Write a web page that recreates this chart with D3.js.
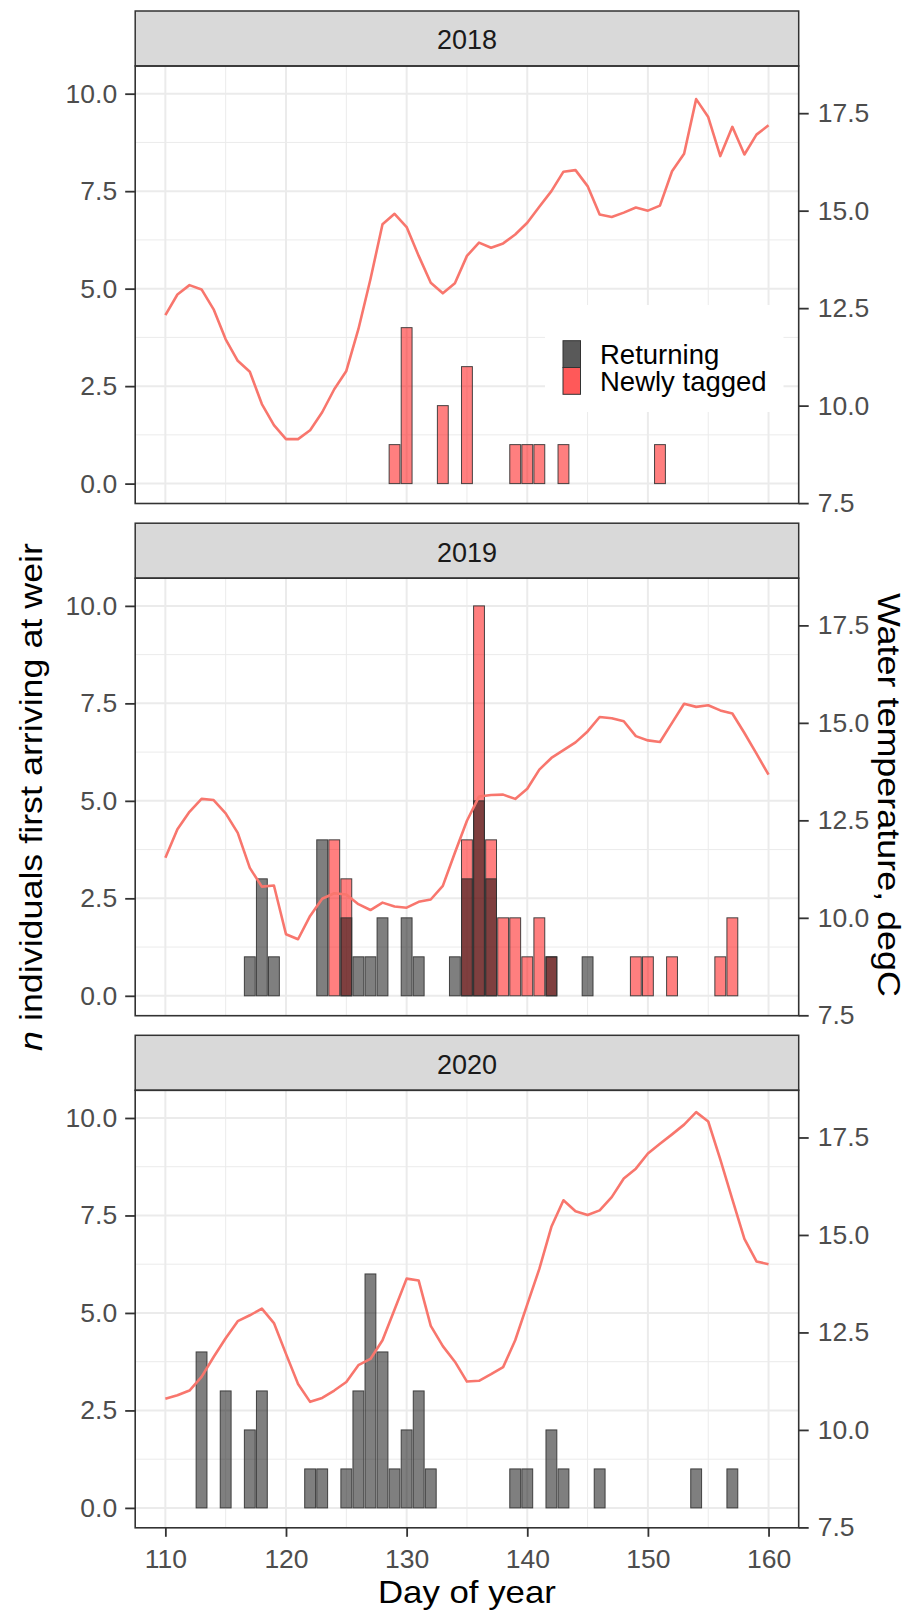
<!DOCTYPE html>
<html lang="en">
<head>
  <meta charset="UTF-8">
  <title>First arrivals at weir and water temperature</title>
  <script src="https://d3js.org/d3.v7.min.js"></script>
  <style>
    body {
      margin: 0;
      background: #fff;
    }
    svg {
      font-family: "Liberation Sans", Arial, sans-serif;
    }
  </style>
</head>
<body>
  <div id="chart"></div>

  <script>
    // panels (facets)
    const years = ["2018", "2019", "2020"];

    // daily water temperature, degC
    const tempDays = [110, 111, 112, 113, 114, 115, 116, 117, 118, 119, 120, 121, 122, 123, 124, 125, 126,
      127, 128, 129, 130, 131, 132, 133, 134, 135, 136, 137, 138, 139, 140, 141, 142, 143, 144, 145,
      146, 147, 148, 149, 150, 151, 152, 153, 154, 155, 156, 157, 158, 159, 160];
    const temp2018 = [12.32, 12.85, 13.09, 12.98, 12.47, 11.70, 11.15, 10.87, 10.04, 9.50, 9.14, 9.14, 9.37,
      9.83, 10.42, 10.89, 11.96, 13.24, 14.65, 14.92, 14.58, 13.84, 13.15, 12.88, 13.14, 13.84, 14.18,
      14.05, 14.16, 14.39, 14.69, 15.10, 15.50, 16.00, 16.04, 15.63, 14.90, 14.84, 14.95, 15.08, 15.00,
      15.13, 16.01, 16.46, 17.86, 17.40, 16.40, 17.15, 16.44, 16.95, 17.19];
    const temp2019 = [11.54, 12.27, 12.72, 13.05, 13.02, 12.68, 12.18, 11.28, 10.80, 10.83, 9.58, 9.45, 10.05,
      10.49, 10.63, 10.60, 10.35, 10.20, 10.39, 10.29, 10.26, 10.41, 10.47, 10.82, 11.67, 12.49, 13.11,
      13.15, 13.16, 13.05, 13.31, 13.80, 14.10, 14.30, 14.50, 14.78, 15.15, 15.12, 15.04, 14.66, 14.55,
      14.51, 15.00, 15.49, 15.41, 15.45, 15.32, 15.24, 14.74, 14.21, 13.67];
    const temp2020 = [10.80, 10.89, 11.01, 11.36, 11.87, 12.35, 12.79, 12.94, 13.11, 12.74, 11.95, 11.18, 10.72,
      10.82, 11.01, 11.23, 11.66, 11.82, 12.30, 13.09, 13.88, 13.83, 12.67, 12.15, 11.75, 11.24, 11.26,
      11.43, 11.61, 12.30, 13.22, 14.13, 15.21, 15.89, 15.61, 15.51, 15.63, 15.97, 16.45, 16.70, 17.09,
      17.34, 17.58, 17.83, 18.15, 17.91, 16.94, 15.91, 14.90, 14.32, 14.25];

    // first arrivals: returning fish
    const returnDays2018 = [];
    const returnCounts2018 = [];
    const returnDays2019 = [117, 118, 119, 123, 125, 126, 127, 128, 130, 131, 134, 135, 136, 137, 142, 145];
    const returnCounts2019 = [1, 3, 1, 4, 2, 1, 1, 2, 2, 1, 1, 3, 5, 3, 1, 1];
    const returnDays2020 = [113, 115, 117, 118, 122, 123, 125, 126, 127, 128, 129, 130, 131, 132, 139, 140,
      142, 143, 146, 154, 157];
    const returnCounts2020 = [4, 3, 2, 3, 1, 1, 1, 3, 6, 4, 1, 2, 3, 1, 1, 1, 2, 1, 1, 1, 1];

    // first arrivals: newly tagged fish
    const newDays2018 = [129, 130, 133, 135, 139, 140, 141, 143, 151];
    const newCounts2018 = [1, 4, 2, 3, 1, 1, 1, 1, 1];
    const newDays2019 = [124, 125, 135, 136, 137, 138, 139, 140, 141, 142, 149, 150, 152, 156, 157];
    const newCounts2019 = [4, 3, 4, 10, 4, 2, 2, 1, 2, 1, 1, 1, 1, 1, 2];
    const newDays2020 = [];
    const newCounts2020 = [];

    const seriesNames = ["Returning", "Newly tagged"];

    // axis ticks
    const dayTicks = [110, 120, 130, 140, 150, 160];
    const dayMinor = [115, 125, 135, 145, 155];
    const countTicks = [0, 2.5, 5, 7.5, 10];
    const countMinor = [1.25, 3.75, 6.25, 8.75];
    const tempTicks = [7.5, 10, 12.5, 15, 17.5];
    const tempOffset = 8; // secondary axis: temp = count + 8

    const temps = [temp2018, temp2019, temp2020];
    const returning = [
      [returnDays2018, returnCounts2018],
      [returnDays2019, returnCounts2019],
      [returnDays2020, returnCounts2020]
    ];
    const newly = [
      [newDays2018, newCounts2018],
      [newDays2019, newCounts2019],
      [newDays2020, newCounts2020]
    ];

    const width = 911, height = 1616;
    const left = 135.2, right = 798.7;
    const stripTops = [11, 523.2, 1035.3];
    const stripH = 55, plotH = 437.5;
    const countDomain = [-0.51, 10.71];

    const svg = d3.select("#chart")
      .append("svg")
      .attr("width", width)
      .attr("height", height);

    const x = d3.scaleLinear().domain([107.5, 162.5]).range([left, right]);

    const line = d3.line();

    years.forEach((year, i) => {
      const top = stripTops[i] + stripH;
      const bottom = top + plotH;
      const y = d3.scaleLinear().domain(countDomain).range([bottom, top]);
      const yTemp = d3.scaleLinear()
        .domain(countDomain.map(v => v + tempOffset))
        .range([bottom, top]);

      const g = svg.append("g");

      // grid
      g.selectAll(".vminor").data(dayMinor).enter().append("line")
        .attr("x1", d => x(d)).attr("x2", d => x(d))
        .attr("y1", top).attr("y2", bottom)
        .attr("stroke", "#ebebeb").attr("stroke-width", 1);
      g.selectAll(".hminor").data(countMinor).enter().append("line")
        .attr("x1", left).attr("x2", right)
        .attr("y1", d => y(d)).attr("y2", d => y(d))
        .attr("stroke", "#ebebeb").attr("stroke-width", 1);
      g.selectAll(".vmajor").data(dayTicks).enter().append("line")
        .attr("x1", d => x(d)).attr("x2", d => x(d))
        .attr("y1", top).attr("y2", bottom)
        .attr("stroke", "#ebebeb").attr("stroke-width", 2);
      g.selectAll(".hmajor").data(countTicks).enter().append("line")
        .attr("x1", left).attr("x2", right)
        .attr("y1", d => y(d)).attr("y2", d => y(d))
        .attr("stroke", "#ebebeb").attr("stroke-width", 2);

      // bars: newly tagged underneath, returning on top
      const drawBars = (pair, fill) => {
        const rows = pair[0].map((d, k) => ({ day: d, n: pair[1][k] }));
        g.selectAll(null).data(rows).enter().append("rect")
          .attr("x", d => x(d.day - 0.45))
          .attr("width", x(1.9) - x(1))
          .attr("y", d => y(d.n))
          .attr("height", d => y(0) - y(d.n))
          .attr("fill", fill)
          .attr("fill-opacity", 0.5)
          .attr("stroke", "#333")
          .attr("stroke-opacity", 0.9)
          .attr("stroke-width", 1);
      };
      drawBars(newly[i], "#ff0000");
      drawBars(returning[i], "#000000");

      // temperature line
      const pts = tempDays.map((d, k) => [x(d), yTemp(temps[i][k])]);
      g.append("path")
        .attr("d", line(pts))
        .attr("fill", "none")
        .attr("stroke", "#F8766D")
        .attr("stroke-width", 2.6)
        .attr("stroke-linejoin", "round");

      // legend inside first panel
      if (i === 0) {
        const lg = g.append("g");
        lg.append("rect")
          .attr("x", 545).attr("y", 305)
          .attr("width", 238.5).attr("height", 107)
          .attr("fill", "#fff");
        const keyFill = ["#595959", "#ff5959"];
        seriesNames.forEach((name, k) => {
          const ky = 340.7 + k * 26.8;
          lg.append("rect")
            .attr("x", 563).attr("y", ky)
            .attr("width", 17.5).attr("height", 26.8)
            .attr("fill", keyFill[k])
            .attr("stroke", "#333").attr("stroke-width", 1);
          lg.append("text")
            .attr("x", 600).attr("y", ky + 13.4 + 9.6)
            .attr("font-size", 27.5)
            .attr("fill", "#000")
            .text(name);
        });
      }

      // strip
      g.append("rect")
        .attr("x", left).attr("y", stripTops[i])
        .attr("width", right - left).attr("height", stripH)
        .attr("fill", "#d9d9d9")
        .attr("stroke", "#333").attr("stroke-width", 1.5);
      g.append("text")
        .attr("x", (left + right) / 2)
        .attr("y", stripTops[i] + 38.3)
        .attr("text-anchor", "middle")
        .attr("font-size", 27)
        .attr("fill", "#1a1a1a")
        .text(year);

      // panel border
      g.append("rect")
        .attr("x", left).attr("y", top)
        .attr("width", right - left).attr("height", plotH)
        .attr("fill", "none")
        .attr("stroke", "#333").attr("stroke-width", 1.6);

      // axes
      const styleAxis = sel => {
        sel.select(".domain").remove();
        sel.selectAll(".tick line").attr("stroke", "#333").attr("stroke-width", 1.8);
        sel.selectAll(".tick text")
          .attr("fill", "#4d4d4d")
          .attr("font-size", 26.5)
          .attr("font-family", "'Liberation Sans', Arial, sans-serif");
      };

      g.append("g")
        .attr("transform", `translate(${left},0)`)
        .call(d3.axisLeft(y).tickValues(countTicks).tickFormat(d3.format(".1f"))
          .tickSize(10).tickPadding(8))
        .call(styleAxis);

      g.append("g")
        .attr("transform", `translate(${right},0)`)
        .call(d3.axisRight(yTemp).tickValues(tempTicks).tickFormat(d3.format(".1f"))
          .tickSize(10).tickPadding(9))
        .call(styleAxis);

      if (i === years.length - 1) {
        g.append("g")
          .attr("transform", `translate(0,${bottom})`)
          .call(d3.axisBottom(x).tickValues(dayTicks).tickFormat(d3.format("d"))
            .tickSize(9).tickPadding(12))
          .call(styleAxis);
      }
    });

    // axis titles
    const yTitle = svg.append("text")
      .attr("transform", "translate(42,797) rotate(-90)")
      .attr("text-anchor", "middle")
      .attr("font-size", 30.5)
      .attr("fill", "#000")
      .attr("textLength", 508)
      .attr("lengthAdjust", "spacingAndGlyphs");
    yTitle.append("tspan").attr("font-style", "italic").text("n");
    yTitle.append("tspan").text(" individuals first arriving at weir");

    svg.append("text")
      .attr("transform", "translate(878,795) rotate(90)")
      .attr("text-anchor", "middle")
      .attr("font-size", 30.5)
      .attr("fill", "#000")
      .attr("textLength", 404)
      .attr("lengthAdjust", "spacingAndGlyphs")
      .text("Water temperature, degC");

    svg.append("text")
      .attr("x", (left + right) / 2)
      .attr("y", 1603)
      .attr("text-anchor", "middle")
      .attr("font-size", 30.5)
      .attr("fill", "#000")
      .attr("textLength", 178)
      .attr("lengthAdjust", "spacingAndGlyphs")
      .text("Day of year");
  </script>
</body>
</html>
